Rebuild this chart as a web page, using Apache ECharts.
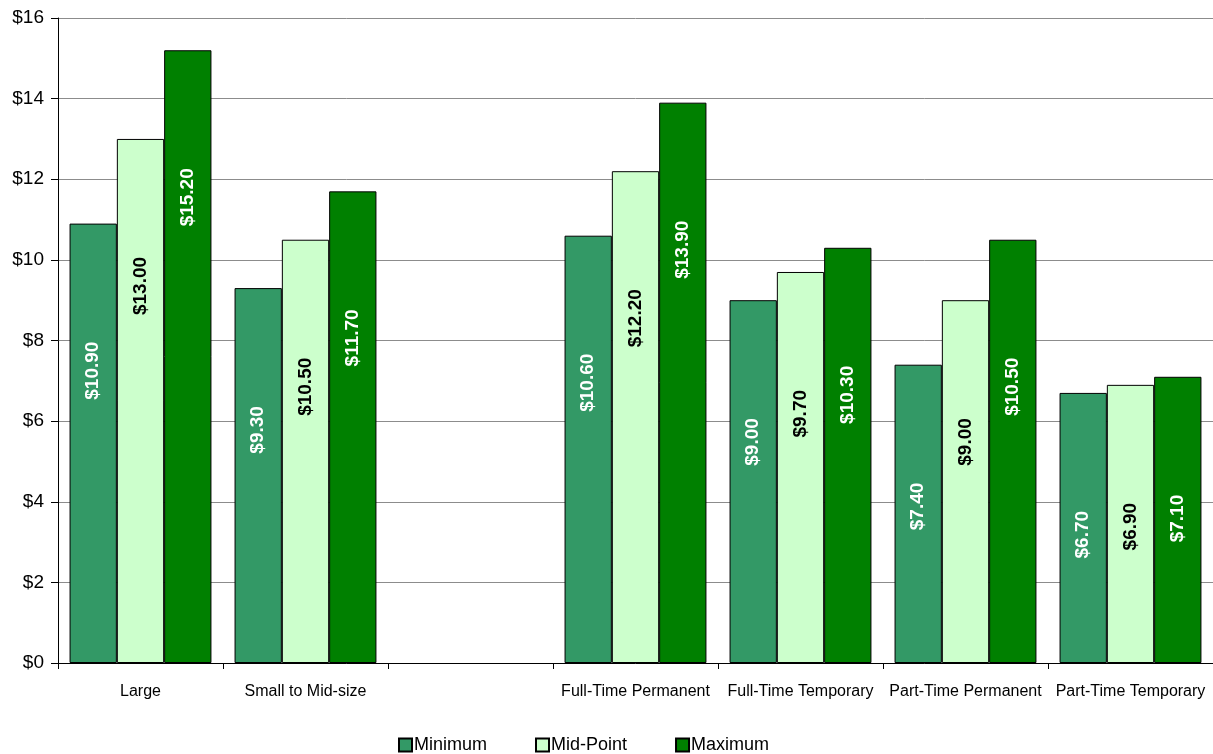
<!DOCTYPE html>
<html>
<head>
<meta charset="utf-8">
<script src="https://cdn.jsdelivr.net/npm/echarts@6/dist/echarts.min.js"></script>
<style>
  html, body { margin: 0; padding: 0; background: #fff; }
  #chart { width: 1213px; height: 754px; }
</style>
</head>
<body>
<div id="chart"></div>
<script>
  var categories = ['Large', 'Small to Mid-size', '', 'Full-Time Permanent', 'Full-Time Temporary', 'Part-Time Permanent', 'Part-Time Temporary'];
  var minimum = [10.9, 9.3, null, 10.6, 9.0, 7.4, 6.7];
  var midPoint = [13.0, 10.5, null, 12.2, 9.7, 9.0, 6.9];
  var maximum = [15.2, 11.7, null, 13.9, 10.3, 10.5, 7.1];
  var yTicks = [0, 2, 4, 6, 8, 10, 12, 14, 16];

  var chart = echarts.init(document.getElementById('chart'));

  // rotated value label, its end sits a fixed gap under the top of the bar
  function label(color) {
    return {
      show: true,
      position: 'insideTop',
      distance: 118,
      rotate: 90,
      align: 'right',
      verticalAlign: 'middle',
      color: color,
      fontFamily: 'Liberation Sans, Arial',
      fontWeight: 'bold',
      fontSize: 19,
      formatter: function (p) { return '$' + p.value.toFixed(2); }
    };
  }

  function bar(name, data, fill, textColor) {
    return {
      name: name,
      type: 'bar',
      data: data,
      barGap: 0,
      barCategoryGap: '14%',
      itemStyle: { color: fill, borderColor: '#000', borderWidth: 1 },
      label: label(textColor)
    };
  }

  var option = {
    animation: false,
    textStyle: { fontFamily: 'Liberation Sans, Arial' },
    grid: { left: 58, right: 0, top: 18, bottom: 91 },
    legend: {
      top: 731,
      left: 393,
      itemWidth: 13,
      itemHeight: 13,
      itemGap: 48,
      icon: 'rect',
      textStyle: { fontSize: 18, color: '#000', padding: [0, 0, 0, -3] },
      data: ['Minimum', 'Mid-Point', 'Maximum']
    },
    xAxis: {
      type: 'category',
      data: categories,
      axisLine: { lineStyle: { color: '#000' } },
      axisTick: { show: true, alignWithLabel: false, length: 6, lineStyle: { color: '#000' } },
      axisLabel: { color: '#000', fontSize: 16, margin: 21, interval: 0 }
    },
    yAxis: {
      type: 'value',
      min: yTicks[0],
      max: yTicks[yTicks.length - 1],
      interval: 2,
      axisLine: { show: true, lineStyle: { color: '#000' } },
      axisTick: { show: true, length: 7, lineStyle: { color: '#000' } },
      axisLabel: { color: '#000', fontSize: 19, margin: 14, formatter: '${value}' },
      splitLine: { lineStyle: { color: '#8c8c8c', width: 1 } }
    },
    series: [
      bar('Minimum', minimum, '#339966', '#fff'),
      bar('Mid-Point', midPoint, '#ccffcc', '#000'),
      bar('Maximum', maximum, '#008000', '#fff')
    ]
  };

  chart.setOption(option);
</script>
</body>
</html>
